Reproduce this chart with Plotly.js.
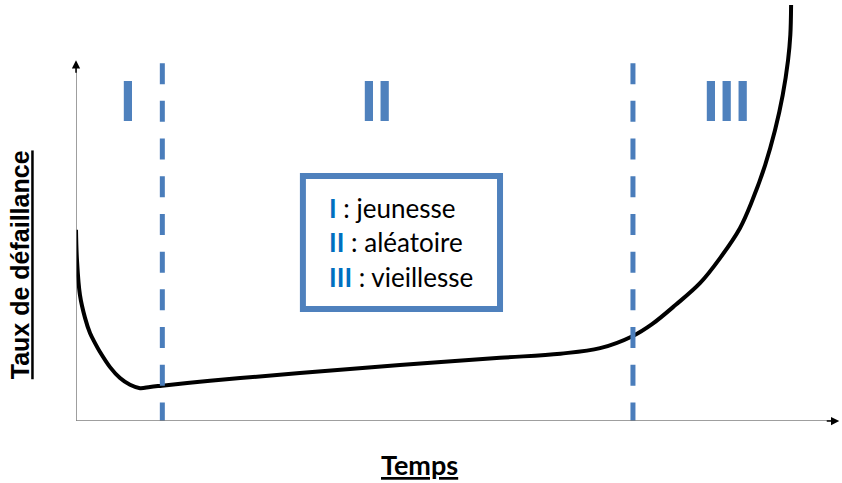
<!DOCTYPE html>
<html>
<head>
<meta charset="utf-8">
<script src="https://cdn.plot.ly/plotly-3.0.1.min.js"></script>
<style>html,body{margin:0;padding:0;background:#fff;}#chart{width:842px;height:483px;}</style>
</head>
<body>
<div id="chart"></div>
<script>
// Bathtub curve (arbitrary units: time 0-100, failure rate 0-100)
const timeVals = [0, 0.13, 0.52, 1.18, 1.83, 2.49, 3.14, 4.45, 5.76, 7.07, 8.38, 9.69, 11.26, 16.2, 21.5, 29.3, 42.4, 55.5, 63.4, 68.6, 72.9, 75.4, 78.5, 81.7, 84.3, 86.9, 88.5, 90.2, 91.5, 92.5, 93.2, 93.5, 93.6];
const rateVals = [45.4, 38.2, 29.9, 24.5, 20.9, 18.5, 16.4, 12.8, 10.2, 8.6, 7.8, 8.1, 8.4, 9.3, 10.2, 11.4, 13.3, 15.0, 16.0, 17.3, 20.2, 23.0, 27.6, 32.8, 38.7, 45.8, 52.3, 60.8, 69.1, 77.4, 85.7, 91.7, 98.8];

const phaseBounds = [11.3, 72.9];
const phaseLabels = ['I', 'II', 'III'];
const phaseLabelX = [6.87, 39.46, 85.27];
const legendNumerals = ['I', 'II', 'III'];
const legendNames = ['jeunesse', 'aléatoire', 'vieillesse'];
const xTitle = 'Temps';
const yTitle = 'Taux de défaillance';

const blue = '#4f81bd';
const blueDash = '#4a7dbb';
const blueText = '#0070c0';
const axisGrey = '#7f7f7f';

const curve = {
  x: timeVals, y: rateVals, type: 'scatter', mode: 'lines',
  line: {color: '#000', width: 4, shape: 'spline', smoothing: 1},
  hoverinfo: 'skip', showlegend: false
};

const shapes = [];
phaseBounds.forEach(b => shapes.push({
  type: 'line', xref: 'x', yref: 'y', x0: b, x1: b, y0: 85.0, y1: 0,
  line: {color: blueDash, width: 5, dash: '21px,16.7px'}
}));
// axes
shapes.push({type: 'line', xref: 'x', yref: 'y', x0: 0, x1: 0, y0: 0, y1: 84, line: {color: axisGrey, width: 1.5}});
shapes.push({type: 'line', xref: 'x', yref: 'y', x0: 0, x1: 99.3, y0: 0, y1: 0, line: {color: axisGrey, width: 1.5}});
// legend box
shapes.push({type: 'rect', xref: 'x', yref: 'y', x0: 29.7, x1: 55.5, y0: 26.6, y1: 58.2,
  line: {color: blue, width: 6}, fillcolor: 'rgba(0,0,0,0)'});

const annotations = [];
// arrowheads
annotations.push({x: 0, y: 85.7, xref: 'x', yref: 'y', ax: 0, ay: 14, text: '', showarrow: true,
  arrowhead: 2, arrowsize: 1.1, arrowwidth: 1.5, arrowcolor: '#000'});
annotations.push({x: 99.9, y: 0, xref: 'x', yref: 'y', ax: -14, ay: 0, text: '', showarrow: true,
  arrowhead: 2, arrowsize: 1.1, arrowwidth: 1.5, arrowcolor: '#000'});
// phase numerals
phaseLabels.forEach((t, i) => annotations.push({
  x: phaseLabelX[i], y: 76.1, xref: 'x', yref: 'y', text: '<b>' + t + '</b>', showarrow: false,
  xanchor: 'center', yanchor: 'middle',
  font: {family: 'Liberation Sans, Arial, sans-serif', size: 57, color: blue}
}));
// legend text
const legendY = [50.6, 42.5, 34.2];
legendNames.forEach((n, i) => annotations.push({
  x: 32.85, y: legendY[i], xref: 'x', yref: 'y', xanchor: 'left', yanchor: 'middle', showarrow: false,
  text: '<b><span style="color:' + blueText + '">' + legendNumerals[i] + '</span></b> : ' + n,
  font: {family: 'Lato, Open Sans, sans-serif', size: 26, color: '#000'}
}));
// titles
annotations.push({x: 0.450, y: -0.1045, xref: 'paper', yref: 'paper', showarrow: false,
  xanchor: 'center', yanchor: 'middle', text: '<b><u>' + xTitle + '</u></b>',
  font: {family: 'Lato, sans-serif', size: 27, color: '#000'}});
annotations.push({x: -0.073, y: 0.3705, xref: 'paper', yref: 'paper', showarrow: false,
  xanchor: 'center', yanchor: 'middle', textangle: -90, text: '<b><u>' + yTitle + '</u></b>',
  font: {family: 'Liberation Sans, Arial, sans-serif', size: 25, color: '#000'}});

const layout = {
  width: 842, height: 483,
  margin: {l: 76, r: 2, t: 0, b: 62},
  paper_bgcolor: '#fff', plot_bgcolor: '#fff',
  xaxis: {range: [0, 100], visible: false, fixedrange: true},
  yaxis: {range: [0, 100], visible: false, fixedrange: true},
  shapes: shapes, annotations: annotations, showlegend: false
};

Plotly.newPlot('chart', [curve], layout, {staticPlot: true, displayModeBar: false});
</script>
</body>
</html>
